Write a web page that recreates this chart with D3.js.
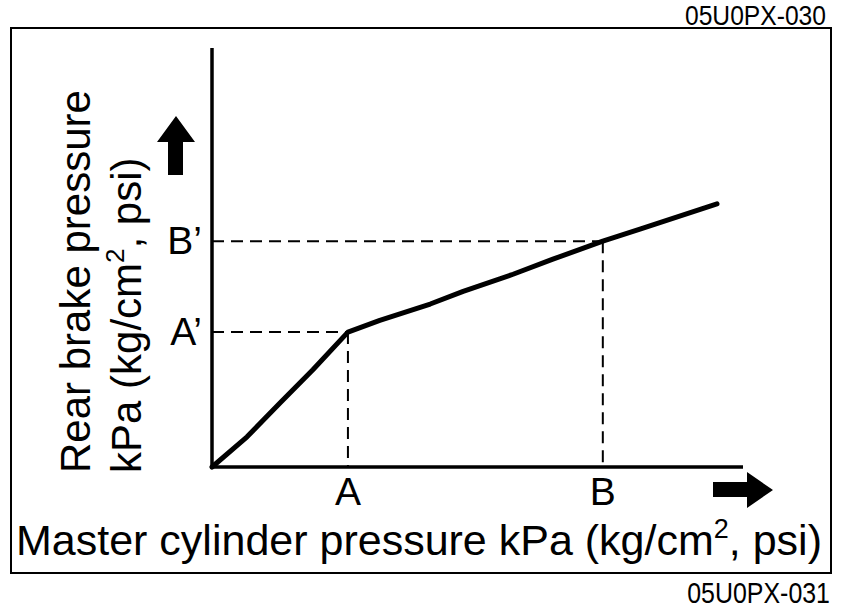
<!DOCTYPE html>
<html>
<head>
<meta charset="utf-8">
<script src="https://cdn.jsdelivr.net/npm/d3@7"></script>
<style>
  body { margin: 0; background: #fff; }
  text { font-family: 'Liberation Sans', Arial, sans-serif; fill: #000; }
</style>
</head>
<body>
<script>
// variables:
var w = 842
var h = 610

// curve (abstract units 0..100 on both axes)
var curveX = [0, 6.6, 12.8, 19.0, 25.6, 31.6, 41.1, 47.3, 56.7, 64.2, 73.6, 80.6, 95.1]
var curveY = [0, 7.2, 15.3, 23.2, 32.2, 35.0, 38.9, 41.9, 46.0, 49.6, 53.9, 56.8, 62.8]

// marked points
var markNames = ['A', 'B']
var markX = [25.6, 73.6]
var markY = [32.2, 53.9]

var svg = d3.select('body')
  .append('svg')
  .attr('width', w)
  .attr('height', h)

var xScale = d3.scaleLinear().domain([0, 100]).range([212, 743])
var yScale = d3.scaleLinear().domain([0, 100]).range([467, 48])

// frame
svg.append('rect')
  .attr('x', 11).attr('y', 28)
  .attr('width', 820).attr('height', 545)
  .attr('fill', 'none')
  .attr('stroke', '#000')
  .attr('stroke-width', 2)

// figure ids (condensed)
svg.append('text')
  .attr('x', 826).attr('y', 25)
  .attr('text-anchor', 'end')
  .attr('font-size', '28px')
  .attr('transform', 'translate(826,0) scale(0.88,1) translate(-826,0)')
  .text('05U0PX-030')
svg.append('text')
  .attr('x', 830).attr('y', 603)
  .attr('text-anchor', 'end')
  .attr('font-size', '29px')
  .attr('transform', 'translate(830,0) scale(0.86,1) translate(-830,0)')
  .text('05U0PX-031')

// dashed guides
var guides = svg.append('g')
  .attr('stroke', '#000')
  .attr('stroke-width', 2)
  .attr('stroke-dasharray', '12,7')
  .attr('fill', 'none')
markX.forEach(function (v, i) {
  guides.append('line')
    .attr('x1', xScale(0)).attr('x2', xScale(v))
    .attr('y1', yScale(markY[i])).attr('y2', yScale(markY[i]))
  guides.append('line')
    .attr('x1', xScale(v)).attr('x2', xScale(v))
    .attr('y1', yScale(markY[i])).attr('y2', yScale(0))
})

// axes (plain lines, no ticks)
svg.append('line')
  .attr('x1', xScale(0)).attr('x2', xScale(0))
  .attr('y1', yScale(100)).attr('y2', yScale(0) + 1.5)
  .attr('stroke', '#000').attr('stroke-width', 3.5)
svg.append('line')
  .attr('x1', xScale(0) - 1.5).attr('x2', xScale(100))
  .attr('y1', yScale(0)).attr('y2', yScale(0))
  .attr('stroke', '#000').attr('stroke-width', 3.5)

// curve
var line = d3.line()
  .x(function (d) { return xScale(d[0]) })
  .y(function (d) { return yScale(d[1]) })
svg.append('path')
  .datum(d3.zip(curveX, curveY))
  .attr('d', line)
  .attr('fill', 'none')
  .attr('stroke', '#000')
  .attr('stroke-width', 5)
  .attr('stroke-linecap', 'round')
  .attr('stroke-linejoin', 'round')

// point labels
svg.selectAll('text.xmark')
  .data(markNames)
  .enter()
  .append('text')
  .attr('class', 'xmark')
  .attr('x', function (d, i) { return xScale(markX[i]) })
  .attr('y', 505)
  .attr('text-anchor', 'middle')
  .attr('font-size', '39px')
  .text(function (d) { return d })
svg.selectAll('text.ymark')
  .data(markNames)
  .enter()
  .append('text')
  .attr('class', 'ymark')
  .attr('x', 202)
  .attr('y', function (d, i) { return yScale(markY[i]) + 13 })
  .attr('text-anchor', 'end')
  .attr('font-size', '39px')
  .text(function (d) { return d + '\u2019' })

// arrows
svg.append('path')
  .attr('d', 'M176,116 L195,142 L183,142 L183,175 L168,175 L168,142 L157,142 Z')
  .attr('fill', '#000')
svg.append('path')
  .attr('d', 'M773,490 L747,508 L747,497 L713,497 L713,482 L747,482 L747,472 Z')
  .attr('fill', '#000')

// axis titles
var xt = svg.append('text')
  .attr('x', 16).attr('y', 555)
  .attr('font-size', '43px')
xt.append('tspan').text('Master cylinder pressure kPa (kg/cm')
xt.append('tspan').attr('dy', -17).attr('font-size', '27px').text('2')
xt.append('tspan').attr('dy', 17).text(', psi)')

var yt = svg.append('g').attr('transform', 'translate(90,473) rotate(-90)')
yt.append('text')
  .attr('font-size', '42px')
  .text('Rear brake pressure')
var yt2 = yt.append('text')
  .attr('y', 51)
  .attr('font-size', '42px')
yt2.append('tspan').text('kPa (kg/cm')
yt2.append('tspan').attr('dy', -17).attr('font-size', '26px').text('2')
yt2.append('tspan').attr('dy', 17).text(', psi)')
</script>
</body>
</html>
